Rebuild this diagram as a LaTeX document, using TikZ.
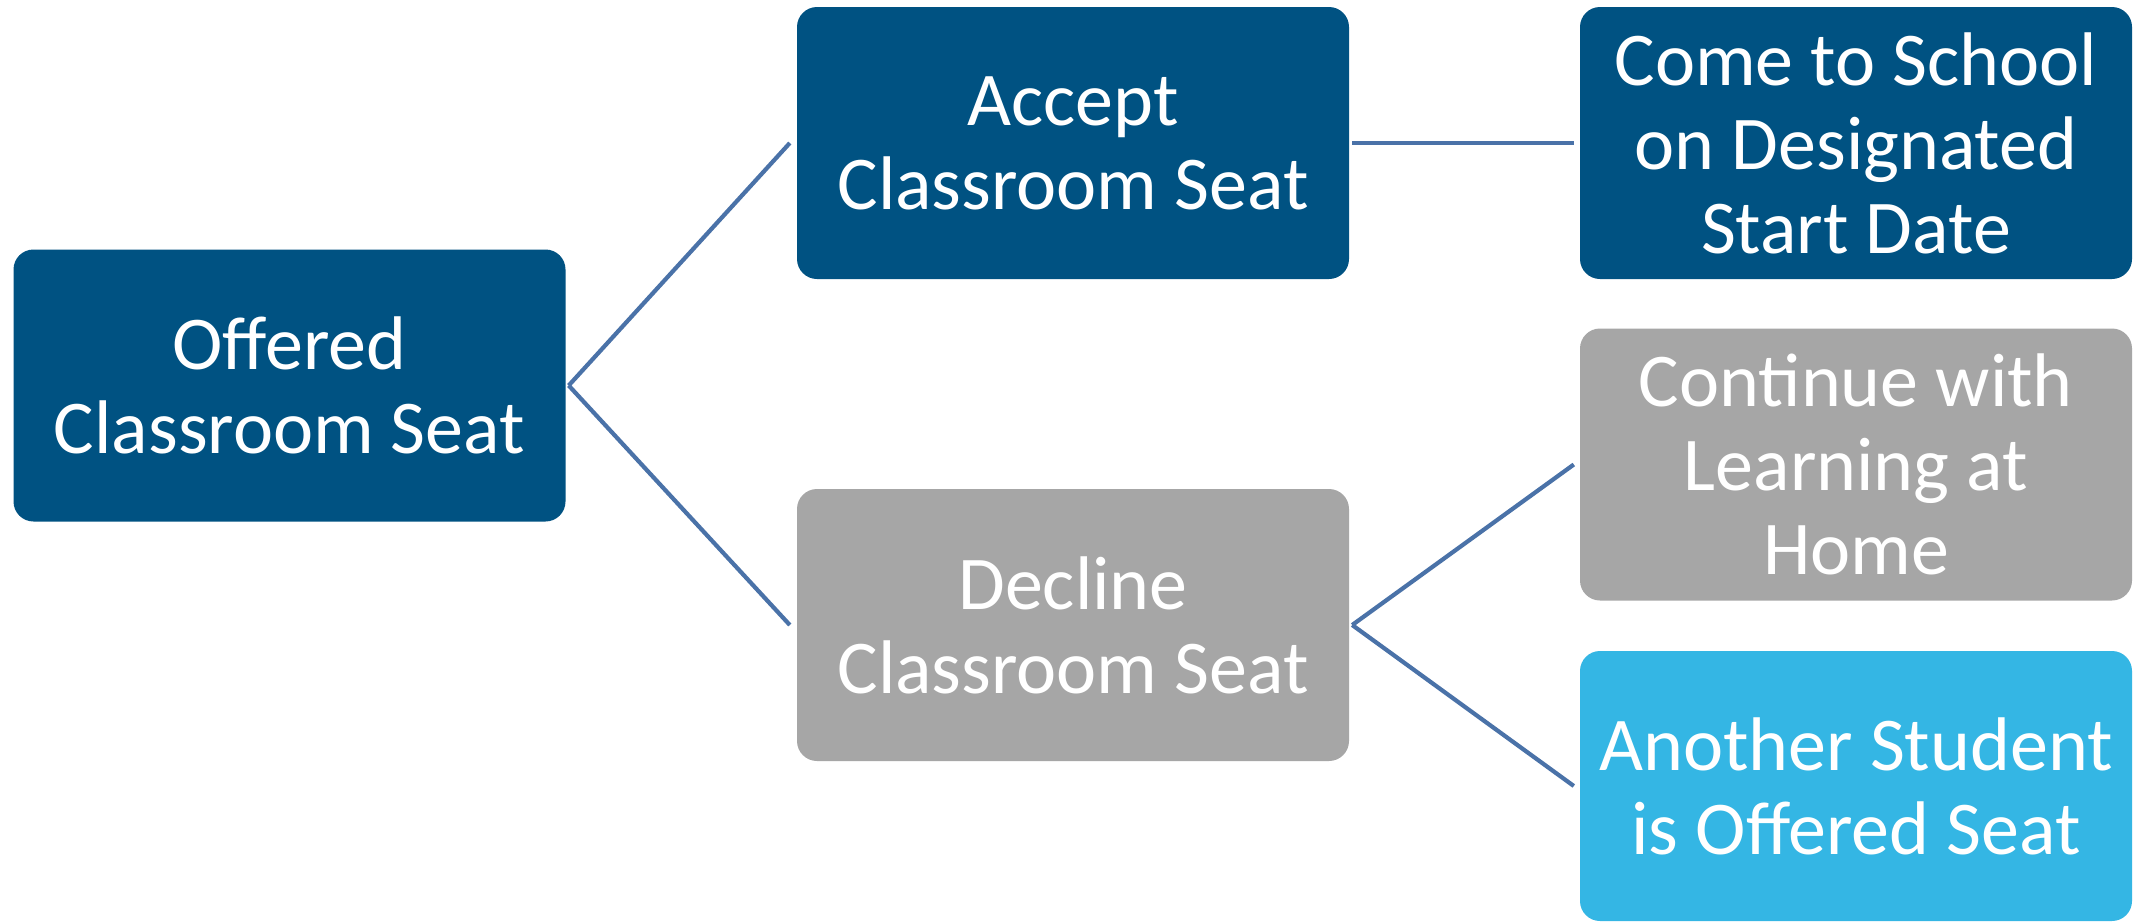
\documentclass[tikz,border=0pt]{standalone}
\usepackage{fontspec}
\setmainfont{Carlito}
\definecolor{darkblue}{RGB}{0,82,130}
\definecolor{boxgray}{RGB}{166,166,166}
\definecolor{lightblue}{RGB}{52,182,228}
\definecolor{linkblue}{RGB}{74,114,168}
\begin{document}
\begin{tikzpicture}[x=1pt,y=-1pt,
  box/.style={rectangle,rounded corners=20pt,minimum width=552pt,minimum height=272pt,
    inner sep=0pt,align=center,text=white,font=\fontsize{76}{84}\selectfont},
  conn/.style={draw=linkblue,line width=4.2pt}]
\useasboundingbox (0,0) rectangle (2136,921);
\fill[white] (0,0) rectangle (2136,921);
\node[box,fill=darkblue] (off) at (289.5,385.5) {Offered\\Classroom Seat};
\node[box,fill=darkblue] (acc) at (1073,143) {Accept\\Classroom Seat};
\node[box,fill=boxgray] (dec) at (1073,625) {Decline\\Classroom Seat};
\node[box,fill=darkblue] (come) at (1856,143) {Come to School\\on Designated\\Start Date};
\node[box,fill=boxgray] (cont) at (1856,464.5) {Continue with\\Learning at\\Home};
\node[box,fill=lightblue,minimum height=270pt] (anot) at (1856,786) {Another Student\\is Offered Seat};
\draw[conn] ([xshift=3pt]off.east) -- ([xshift=-7pt]acc.west);
\draw[conn] ([xshift=3pt]off.east) -- ([xshift=-7pt]dec.west);
\draw[conn] ([xshift=3pt]acc.east) -- ([xshift=-6pt]come.west);
\draw[conn] ([xshift=3pt]dec.east) -- ([xshift=-6pt]cont.west);
\draw[conn] ([xshift=3pt]dec.east) -- ([xshift=-6pt]anot.west);
\end{tikzpicture}
\end{document}
